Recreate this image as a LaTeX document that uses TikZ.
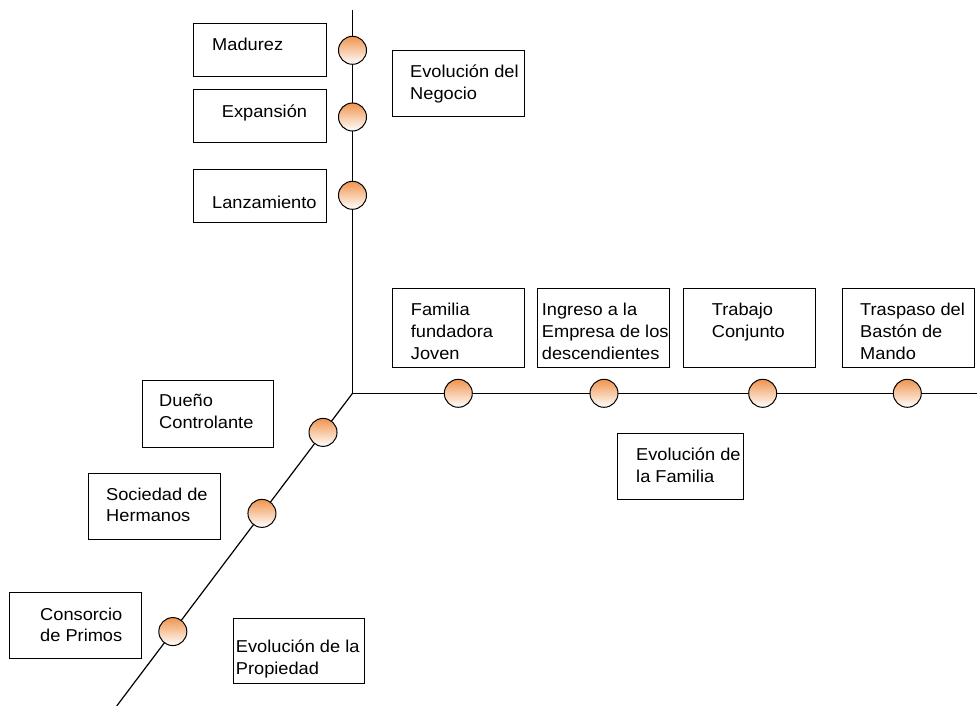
\documentclass[tikz,border=0pt]{standalone}
\usepackage{fontspec}
\setmainfont{Liberation Sans}
\newfontfamily\lblfamily[FakeStretch=1.06]{Liberation Sans}
\usetikzlibrary{calc}
\definecolor{dotorange}{RGB}{240,148,78}
\tikzset{
  box/.style={draw=black, line width=1pt, anchor=north west, inner sep=0pt},
  lbl/.style={anchor=north west, inner sep=0pt, align=left,
              font=\lblfamily\fontsize{17.2}{21.7}\selectfont},
  dot/.style={circle, draw=black, line width=1pt, minimum size=28pt,
              inner sep=0pt, top color=dotorange, bottom color=white},
  axisline/.style={draw=black, line width=1.2pt}
}
% first-line baseline helper: every label starts with an 18pt-high rule
\newcommand{\bl}[1]{#1-18}
\newcommand{\tstrut}{\rule{0pt}{18pt}}
\begin{document}
\begin{tikzpicture}[x=1pt,y=-1pt]
\useasboundingbox (0,0) rectangle (977,706);

% axes
\coordinate (o) at (352.5,393.3);
\coordinate (top) at (352.5,10);
\coordinate (right) at (977,393.3);
\coordinate (low) at (116.7,706);
\path[axisline] (top) -- (o) -- (right);
\path[axisline] (o) -- (low);

% business axis
\node[dot] (d1) at (352.5,50.3) {};
\node[dot] (d2) at (352.5,117) {};
\node[dot] (d3) at (352.5,195.3) {};

% family axis
\node[dot] (f1) at (458.3,393.3) {};
\node[dot] (f2) at (604,393.3) {};
\node[dot] (f3) at (762.7,393.3) {};
\node[dot] (f4) at (907.3,393.3) {};

% ownership axis
\node[dot] (p1) at ($(o)!0.125!(low)$) {};
\node[dot] (p2) at ($(o)!0.384!(low)$) {};
\node[dot] (p3) at ($(o)!0.762!(low)$) {};

% boxes
\node[box, minimum width=132.7pt, minimum height=52.7pt] (madurez) at (193.3,23.3) {};
\node[box, minimum width=132.7pt, minimum height=53pt] (expansion) at (193.3,89.3) {};
\node[box, minimum width=132.7pt, minimum height=52.7pt] (lanzamiento) at (193.3,169) {};
\node[box, minimum width=132pt, minimum height=66pt] (negocio) at (392.3,50) {};

\node[box, minimum width=132pt, minimum height=79pt] (familia) at (392.3,288.3) {};
\node[box, minimum width=132pt, minimum height=79pt] (ingreso) at (537.3,288.3) {};
\node[box, minimum width=131.7pt, minimum height=79pt] (trabajo) at (683.3,288.3) {};
\node[box, minimum width=132.6pt, minimum height=79pt] (traspaso) at (841.7,288.3) {};
\node[box, minimum width=126.6pt, minimum height=66.6pt] (efamilia) at (616.7,432.7) {};

\node[box, minimum width=131.6pt, minimum height=66.7pt] (dueno) at (141.7,380) {};
\node[box, minimum width=131.7pt, minimum height=65.7pt] (sociedad) at (88.3,473.3) {};
\node[box, minimum width=132pt, minimum height=66pt] (consorcio) at (9,591.7) {};
\node[box, minimum width=130.7pt, minimum height=65pt] (propiedad) at (233.3,618.3) {};

% texts
\node[lbl] (tmadurez) at (212,\bl{50}) {\tstrut Madurez};
\node[lbl] (texpansion) at (221.7,\bl{117}) {\tstrut Expansión};
\node[lbl] (tlanzamiento) at (212,\bl{208.3}) {\tstrut Lanzamiento};
\node[lbl] (tnegocio) at (410,\bl{77.3}) {\tstrut Evolución del\\Negocio};

\node[lbl] (tfamilia) at (410.7,\bl{315.5}) {\tstrut Familia\\fundadora\\Joven};
\node[lbl] (tingreso) at (541.7,\bl{315.5}) {\tstrut Ingreso a la\\Empresa de los\\descendientes};
\node[lbl] (ttrabajo) at (711.7,\bl{315.5}) {\tstrut Trabajo\\Conjunto};
\node[lbl] (ttraspaso) at (860,\bl{315.5}) {\tstrut Traspaso del\\Bastón de\\Mando};
\node[lbl] (tefamilia) at (636,\bl{460.7}) {\tstrut Evolución de\\la Familia};

\node[lbl] (tdueno) at (159,\bl{406.7}) {\tstrut Dueño\\Controlante};
\node[lbl] (tsociedad) at (106,\bl{500}) {\tstrut Sociedad de\\Hermanos};
\node[lbl] (tconsorcio) at (40,\bl{620}) {\tstrut Consorcio\\de Primos};
\node[lbl] (tpropiedad) at (235.7,\bl{652.7}) {\tstrut Evolución de la\\Propiedad};
\end{tikzpicture}
\end{document}
